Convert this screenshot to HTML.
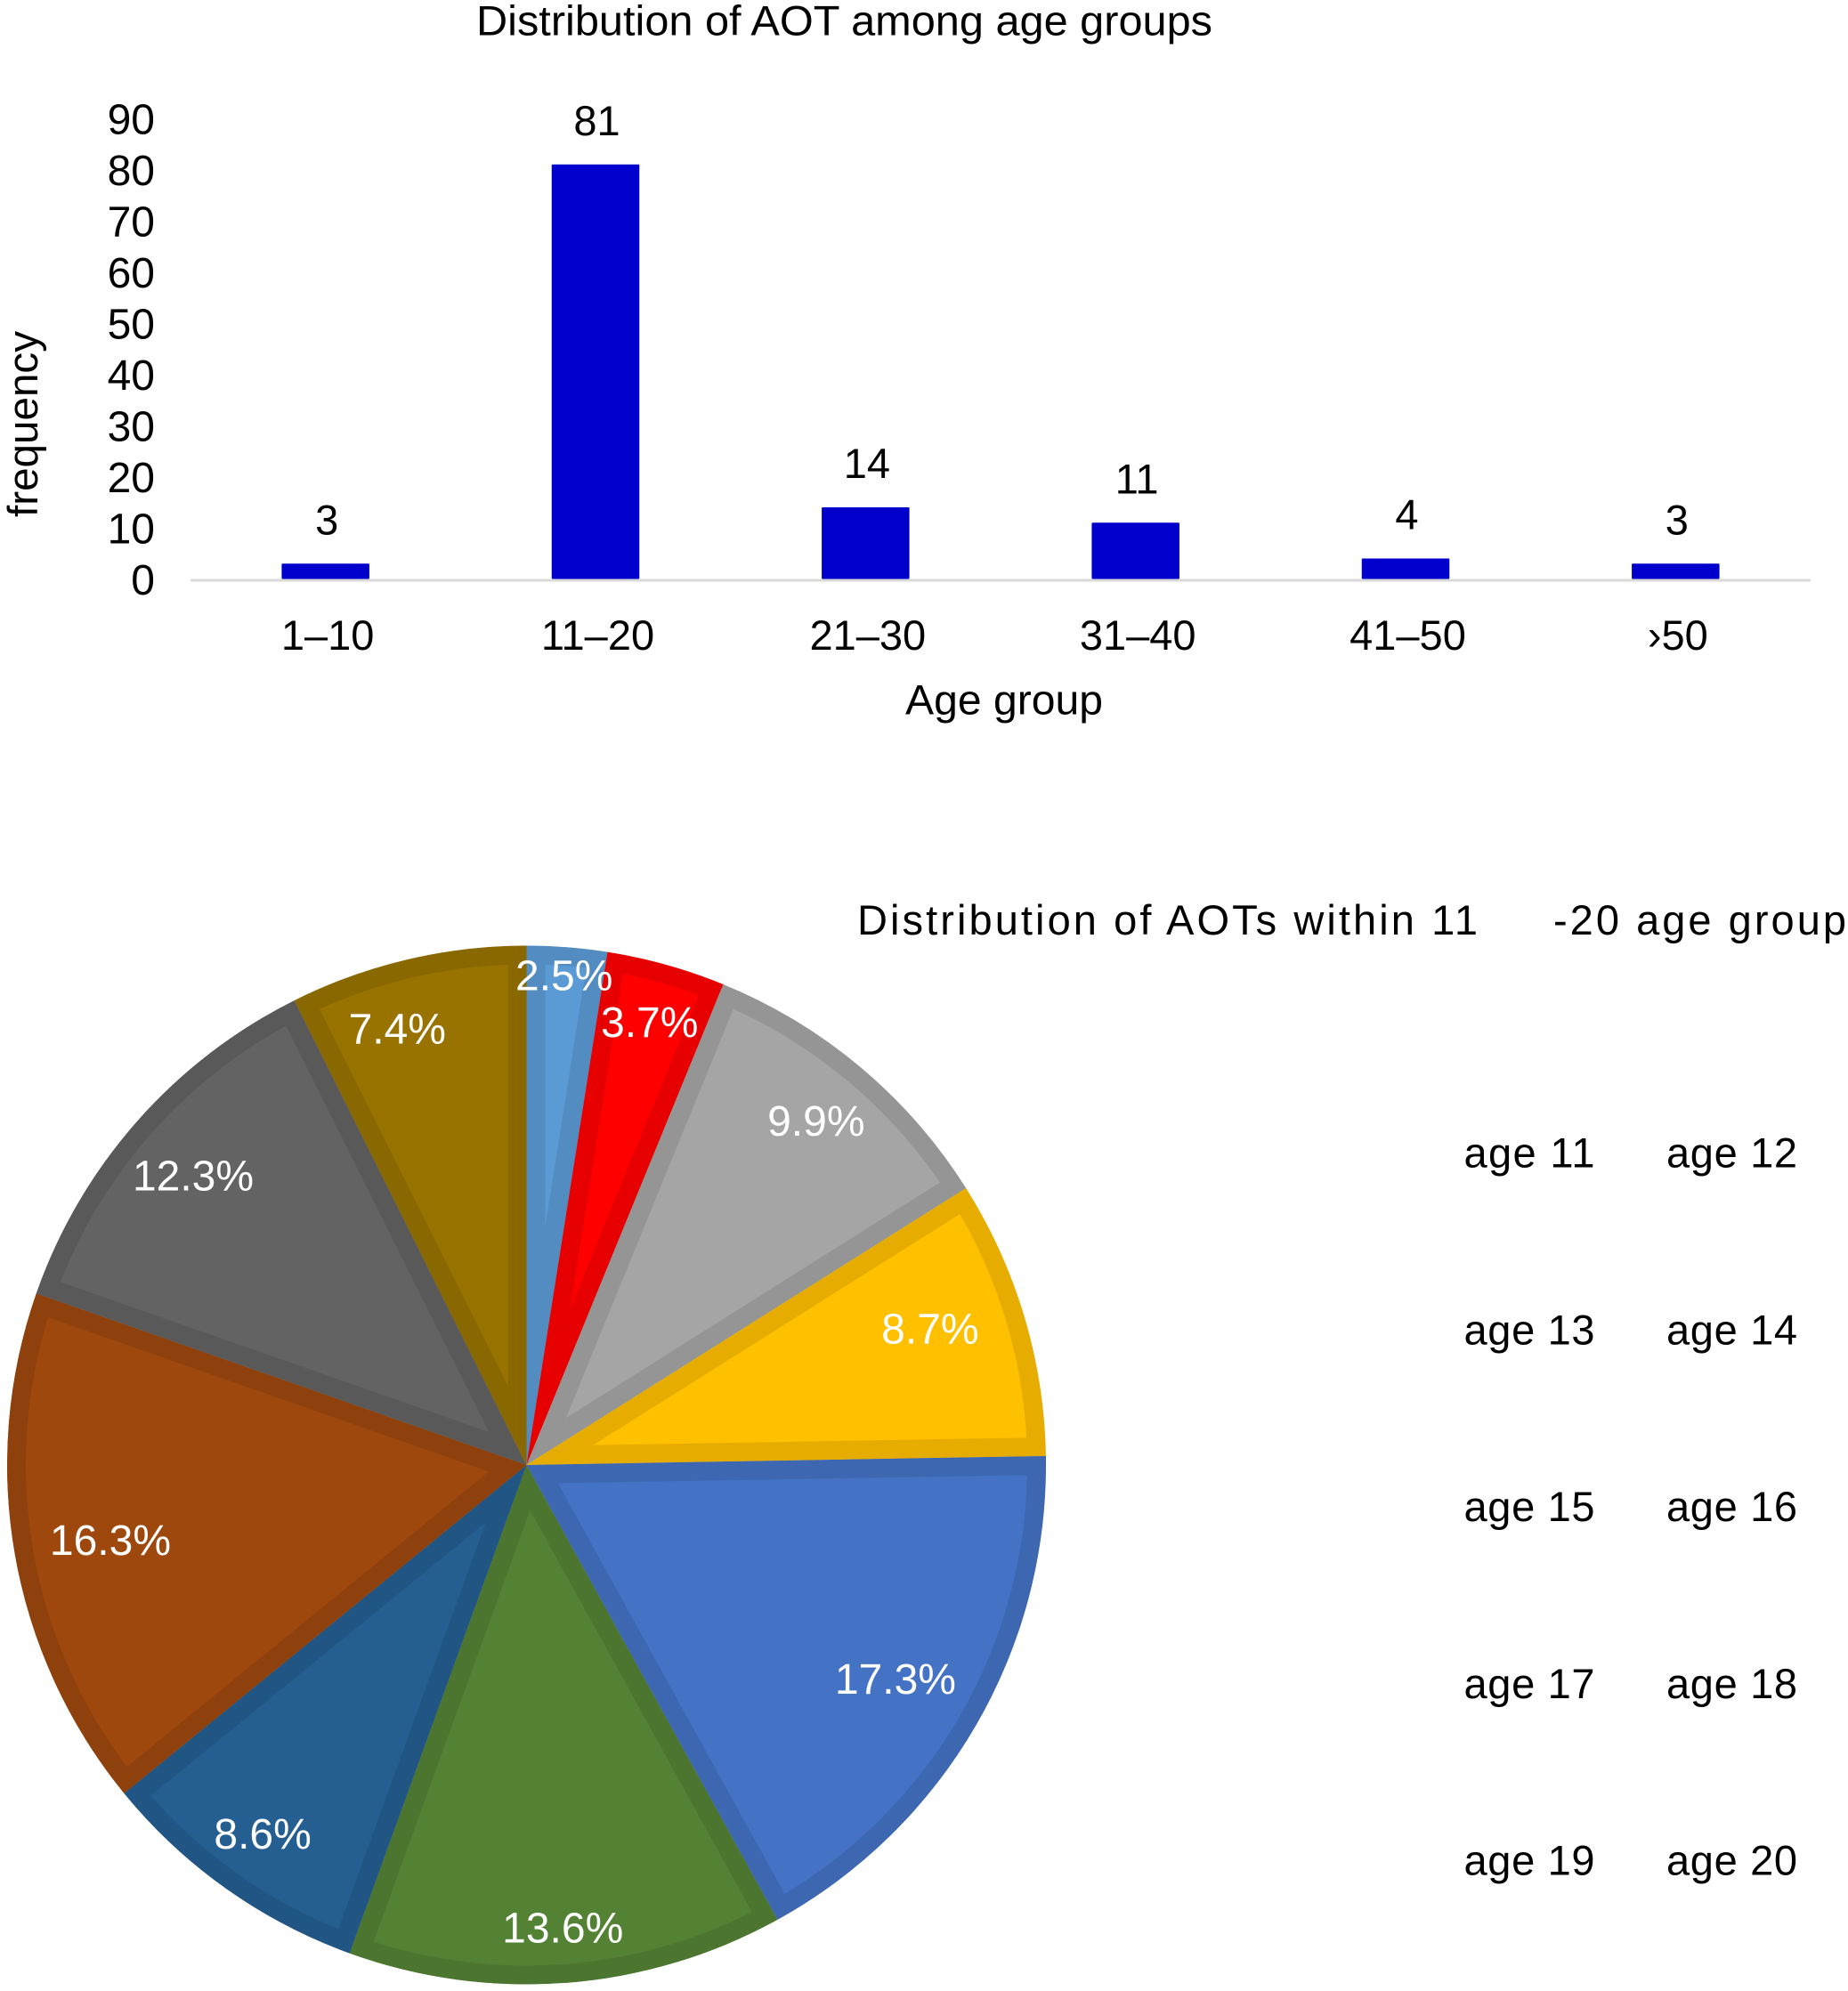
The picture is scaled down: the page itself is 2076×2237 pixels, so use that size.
<!DOCTYPE html>
<html lang="en">
<head>
<meta charset="utf-8">
<title>Distribution of AOT</title>
<style>
html,body{margin:0;padding:0;background:#fff;}
svg{display:block;}
text{font-family:"Liberation Sans",Arial,sans-serif;fill:#000;}
</style>
</head>
<body>
<svg id="chart" xmlns="http://www.w3.org/2000/svg" width="2076" height="2237" viewBox="0 0 2076 2237">
  <rect x="0" y="0" width="2076" height="2237" fill="#fff"/>
  <g id="bar-chart">
    <text x="535" y="39.5" font-size="47" textLength="827" lengthAdjust="spacingAndGlyphs">Distribution of AOT among age groups</text>
    <text transform="translate(42,581) rotate(-90)" font-size="47" textLength="209" lengthAdjust="spacingAndGlyphs">frequency</text>
    <text x="1017" y="802.5" font-size="47" textLength="222" lengthAdjust="spacingAndGlyphs">Age group</text>
  </g>
  <g id="pie-chart">
    <text x="963" y="1050" font-size="47" textLength="697" lengthAdjust="spacing">Distribution of AOTs within 11</text>
    <text x="1745" y="1050" font-size="47" textLength="329" lengthAdjust="spacing">-20 age group</text>
  </g>
</svg>
<script>
// Bar chart data
const barCategories = ['1–10', '11–20', '21–30', '31–40', '41–50', '›50'];
const barValues = [3, 81, 14, 11, 4, 3];
const yTicks = [0, 10, 20, 30, 40, 50, 60, 70, 80, 90];

// Pie chart data
const pieLabels = ['age 11', 'age 12', 'age 13', 'age 14', 'age 15', 'age 16', 'age 17', 'age 18', 'age 19', 'age 20'];
const pieValues = [2.5, 3.7, 9.9, 8.7, 17.3, 13.6, 8.6, 16.3, 12.3, 7.4];

// Layout and style (not data)
const NS = 'http://www.w3.org/2000/svg';
const plot = { left: 214, right: 2034, base: 650.5, axisY: 652, unit: 5.75, barWidth: 98.5 };
const pie = { cx: 591.5, cy: 1646, r: 583.5, border: 21, labelR: 495 };
const pieFills = ['#5b9bd5', '#ff0000', '#a5a5a5', '#ffc000', '#4472c4', '#548235', '#255e91', '#9e480e', '#636363', '#997300'];
const pieBorders = ['#528cc0', '#e60000', '#959595', '#e6ad00', '#3d67b0', '#4c7530', '#215583', '#8e410d', '#595959', '#8a6800'];
const labelNudgeX = [3.5, 5, 7, -21, -14, 2, -10, 20, -3, -31.5];
const labelNudgeY = [-57, -21.5, -8, -12, -8, 26, 10.5, -1.5, 1.5, -8.5];

const svg = document.getElementById('chart');
const barGroup = document.getElementById('bar-chart');
const pieGroup = document.getElementById('pie-chart');

function make(tag, attrs, parent, content) {
  const el = document.createElementNS(NS, tag);
  for (const key in attrs) el.setAttribute(key, attrs[key]);
  if (content !== undefined) el.textContent = content;
  parent.appendChild(el);
  return el;
}

// Axis functions
function xBand(i) { return plot.left + (plot.right - plot.left) / barCategories.length * (i + 0.5); }
function yValue(v) { return plot.base - v * plot.unit; }
function tickY(v) { return plot.axisY - v * plot.unit; }
function pieAngle(pct) { return pct / 100 * 2 * Math.PI; }
function pieX(angle, r) { return pie.cx + r * Math.sin(angle); }
function pieY(angle, r) { return pie.cy - r * Math.cos(angle); }

// Y tick labels
yTicks.forEach(function (t) {
  const label = make('text', { x: 174, y: tickY(t) + 16, 'font-size': 48, 'text-anchor': 'end' }, barGroup, String(t));
  
  
});

// Axis line
const axisLine = make('line', { x1: plot.left, x2: plot.right, y1: plot.axisY, y2: plot.axisY, stroke: '#d9d9d9', 'stroke-width': 3 }, barGroup);



// Bars, value labels and category labels
barValues.forEach(function (v, i) {
  const top = yValue(v);
  const bar = make('rect', { x: xBand(i) - plot.barWidth / 2, y: top, width: plot.barWidth, height: plot.base - top, fill: '#0000cc', rx: 1 }, barGroup);
  
  

  const valueLabel = make('text', { x: xBand(i) + 1.5, y: top - 33, 'font-size': 47, 'text-anchor': 'middle' }, barGroup, String(v));
  
  

  const catLabel = make('text', { x: xBand(i) + 2.5, y: 730, 'font-size': 47, 'text-anchor': 'middle' }, barGroup, barCategories[i]);
  
  
});

// Pie slices
const defs = make('defs', {}, svg);
const total = pieValues.reduce(function (a, b) { return a + b; }, 0);
let cumulative = 0;
pieValues.forEach(function (v, i) {
  const pctStart = cumulative / total * 100;
  cumulative += v;
  const pctEnd = cumulative / total * 100;
  const a0 = pieAngle(pctStart);
  const a1 = pieAngle(pctEnd);
  const large = (a1 - a0) > Math.PI ? 1 : 0;
  const d = 'M' + pie.cx + ' ' + pie.cy +
    'L' + pieX(a0, pie.r) + ' ' + pieY(a0, pie.r) +
    'A' + pie.r + ' ' + pie.r + ' 0 ' + large + ' 1 ' + pieX(a1, pie.r) + ' ' + pieY(a1, pie.r) + 'Z';

  const clip = make('clipPath', { id: 'slice-clip-' + i }, defs);
  make('path', { d: d }, clip);

  const slice = make('path', {
    d: d,
    fill: pieFills[i],
    stroke: pieBorders[i],
    'stroke-width': pie.border * 2,
    'stroke-linejoin': 'miter',
    'clip-path': 'url(#slice-clip-' + i + ')'
  }, pieGroup);
  
  
});

// Pie percentage labels (drawn over all slices)
cumulative = 0;
pieValues.forEach(function (v, i) {
  const mid = pieAngle((cumulative + v / 2) / total * 100);
  cumulative += v;
  const label = make('text', {
    x: pieX(mid, pie.labelR) + labelNudgeX[i],
    y: pieY(mid, pie.labelR) + labelNudgeY[i] + 17,
    'font-size': 48,
    'text-anchor': 'middle',
    style: 'fill:#fff'
  }, pieGroup, v.toFixed(1) + '%');
  
  
});

// Legend (text only, two columns)
pieLabels.forEach(function (name, i) {
  const col = i % 2;
  const row = Math.floor(i / 2);
  const entry = make('text', {
    x: col === 0 ? 1644.5 : 1872,
    y: 1311.5 + row * 198.8,
    'font-size': 47,
    textLength: 147,
    lengthAdjust: 'spacing'
  }, pieGroup, name);
  
  
});
</script>
</body>
</html>
